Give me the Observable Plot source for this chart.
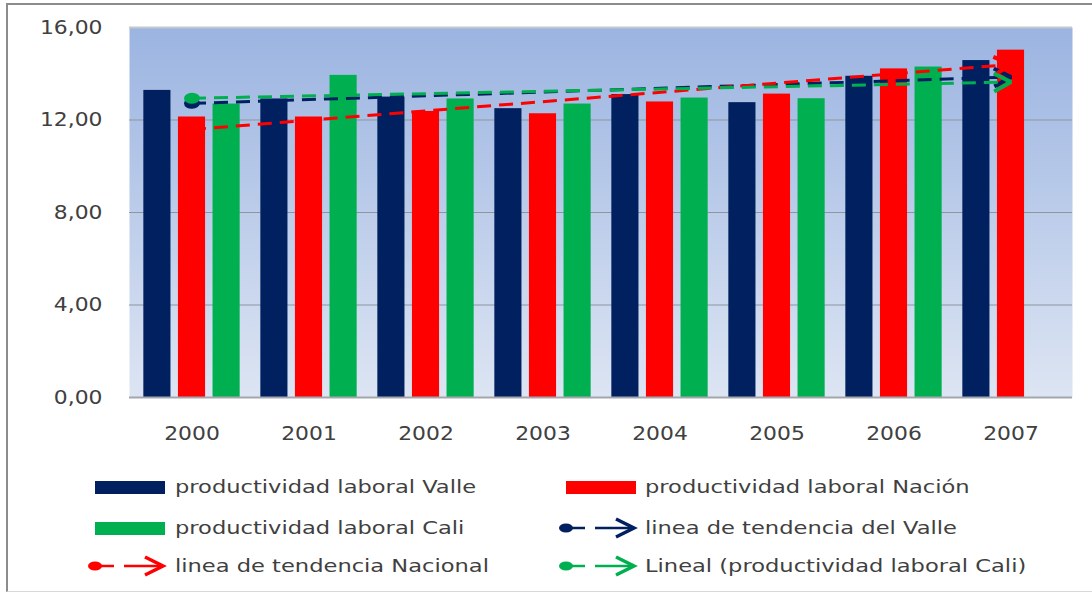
<!DOCTYPE html>
<html><head><meta charset="utf-8">
<script src="https://cdn.jsdelivr.net/npm/d3@7"></script>
<script src="https://cdn.jsdelivr.net/npm/@observablehq/plot@0.6"></script>
<style>
html,body{margin:0;padding:0;background:#fff;}
#wrap{position:relative;width:1092px;height:592px;overflow:hidden;font-family:"DejaVu Sans",sans-serif;}
#frame{position:absolute;left:6px;top:3px;width:1100px;height:589px;border:2px solid #8c8c8c;border-bottom:1px solid #d9d9d9;box-sizing:border-box;}
#chart{position:absolute;left:0;top:0;}
#legend{position:absolute;left:0;top:452px;width:1092px;height:140px;}
.sym{position:absolute;}
.lbl{position:absolute;white-space:nowrap;font-size:18.5px;color:#404040;line-height:24px;transform:scaleX(1.22);transform-origin:0 50%;}
</style>
</head><body>
<div id="wrap"><div id="frame"></div><div id="chart"></div><div id="legend"></div></div>
<script>
// ---- data ----
const years = ["2000","2001","2002","2003","2004","2005","2006","2007"];
const valle  = [13.28, 12.91, 12.99, 12.49, 13.10, 12.75, 13.89, 14.57];
const nacion = [12.13, 12.13, 12.37, 12.27, 12.78, 13.12, 14.21, 15.02];
const cali   = [12.69, 13.93, 12.91, 12.69, 12.95, 12.92, 14.29, null];
const seriesNames = ["productividad laboral Valle", "productividad laboral Nación", "productividad laboral Cali"];
const trendNames = ["linea de tendencia del Valle", "linea de tendencia Nacional", "Lineal (productividad laboral Cali)"];
// trend line end values (first year, last year)
const trendStart = [12.72, 11.59, 12.94];
const trendEnd   = [13.86, 14.40, 13.64];
const yTicks = [0, 4, 8, 12, 16];
const colors = ["#002060", "#FF0000", "#00B050"];

// ---- layout ----
const W = 1092, H = 452, mL = 129, mR = 20, mT = 27, mB = 55;
const step = (W - mL - mR) / years.length;
const barW = 28, gap = 6.6, groupW = 3 * barW + 2 * gap;

const seriesVals = [valle, nacion, cali];
const barMarks = seriesVals.map((vals, k) => {
  const rows = years.map((y, i) => ({year: y, value: vals[i]})).filter(d => d.value != null);
  const insetLeft = step / 2 - groupW / 2 + k * (barW + gap);
  const insetRight = step - insetLeft - barW;
  return Plot.barY(rows, {x: "year", y: "value", fill: colors[k], insetLeft, insetRight});
});

const trendRows = trendStart.map((s, k) => ({
  x1: years[0], x2: years[years.length - 1], y1: s, y2: trendEnd[k], k
}));

const NS = "http://www.w3.org/2000/svg";
function dotMarker(color) {
  const m = document.createElementNS(NS, "marker");
  m.setAttribute("viewBox", "-10 -10 20 20");
  m.setAttribute("markerWidth", 20); m.setAttribute("markerHeight", 20);
  m.setAttribute("markerUnits", "userSpaceOnUse");
  m.setAttribute("orient", "auto");
  const e = document.createElementNS(NS, "ellipse");
  e.setAttribute("rx", 8); e.setAttribute("ry", 5.5);
  e.setAttribute("fill", color); e.setAttribute("stroke", "none");
  m.appendChild(e);
  return m;
}
function arrowMarker(color) {
  const m = document.createElementNS(NS, "marker");
  m.setAttribute("viewBox", "-22 -14 26 28");
  m.setAttribute("markerWidth", 26); m.setAttribute("markerHeight", 28);
  m.setAttribute("markerUnits", "userSpaceOnUse");
  m.setAttribute("orient", "auto");
  const p = document.createElementNS(NS, "path");
  p.setAttribute("d", "M-17,-9L0,0L-17,9");
  p.setAttribute("fill", "none"); p.setAttribute("stroke", color);
  p.setAttribute("stroke-width", 4); p.setAttribute("stroke-dasharray", "none");
  p.setAttribute("stroke-linejoin", "miter");
  m.appendChild(p);
  return m;
}

const fmt = d => d.toFixed(2).replace(".", ",");

const chart = Plot.plot({
  width: W, height: H,
  marginLeft: mL, marginRight: mR, marginTop: mT, marginBottom: mB,
  style: {fontFamily: "DejaVu Sans, sans-serif", background: "transparent", color: "#404040"},
  x: {type: "band", domain: years, padding: 0, label: null},
  y: {domain: [0, 16], label: null},
  marks: [
    Plot.frame({fill: "#9db5e2", stroke: null}),
    Plot.ruleY([4, 8, 12], {stroke: "#8f959f", strokeWidth: 1}),
    Plot.ruleY([16], {stroke: "#c4c7cc", strokeWidth: 2}),
    ...barMarks,
    Plot.ruleY([0], {stroke: "#a3a7ad", strokeWidth: 2}),
    ...trendRows.map(r => Plot.link([r], {
      x1: "x1", y1: "y1", x2: "x2", y2: "y2",
      stroke: colors[r.k], strokeWidth: 3, strokeDasharray: "14,8",
      markerStart: dotMarker, markerEnd: arrowMarker
    })),
    Plot.axisY({ticks: yTicks, tickFormat: fmt, tickSize: 0, tickPadding: 27, fontSize: 19, fill: "#404040"}),
    Plot.axisX({tickSize: 0, tickPadding: 29, fontSize: 19, fill: "#404040"})
  ]
});

// background gradient
const defs = document.createElementNS(NS, "defs");
defs.innerHTML = '<linearGradient id="bgGrad" x1="0" y1="0" x2="0" y2="1">' +
  '<stop offset="0" stop-color="#9bb4e1"/><stop offset="1" stop-color="#dde5f3"/></linearGradient>';
chart.insertBefore(defs, chart.firstChild);
const fr = chart.querySelector('[aria-label="frame"]');
if (fr) { (fr.tagName === "rect" ? [fr] : fr.querySelectorAll("rect")).forEach(r => r.setAttribute("fill", "url(#bgGrad)")); }

// stretch tick labels horizontally to match the reference's wide lettering
chart.querySelectorAll('[aria-label="x-axis tick label"] text, [aria-label="y-axis tick label"] text').forEach(t => {
  const x = parseFloat(t.getAttribute("x")) || 0;
  const tr = t.getAttribute("transform") || "";
  t.setAttribute("transform", `${tr} translate(${x},0) scale(1.15,1) translate(${-x},0)`);
});
document.getElementById("chart").appendChild(chart);

// ---- legend ----
const legend = document.getElementById("legend");
const rowsY = [35, 76, 114];
const cols = [{sw: 95, tr: 87, tx: 175}, {sw: 566, tr: 558, tx: 645}];
const entries = [
  {type: "bar", k: 0, c: 0, r: 0, label: seriesNames[0]},
  {type: "bar", k: 1, c: 1, r: 0, label: seriesNames[1]},
  {type: "bar", k: 2, c: 0, r: 1, label: seriesNames[2]},
  {type: "trend", k: 0, c: 1, r: 1, label: trendNames[0]},
  {type: "trend", k: 1, c: 0, r: 2, label: trendNames[1]},
  {type: "trend", k: 2, c: 1, r: 2, label: trendNames[2]}
];
entries.forEach(e => {
  const cy = rowsY[e.r], col = cols[e.c], color = colors[e.k];
  if (e.type === "bar") {
    const d = document.createElement("div");
    d.className = "sym";
    d.style.cssText = `left:${col.sw}px;top:${cy - 6.5}px;width:70px;height:13px;background:${color};`;
    legend.appendChild(d);
  } else {
    const s = document.createElementNS(NS, "svg");
    s.setAttribute("class", "sym");
    s.setAttribute("width", 80); s.setAttribute("height", 24);
    s.style.left = col.tr + "px"; s.style.top = (cy - 12) + "px";
    s.innerHTML = `<line x1="8" y1="12" x2="27" y2="12" stroke="${color}" stroke-width="2.5"/>` +
      `<line x1="37" y1="12" x2="74" y2="12" stroke="${color}" stroke-width="2.5"/>` +
      `<ellipse cx="8" cy="12" rx="7" ry="4.5" fill="${color}"/>` +
      `<path d="M58,3L76,12L58,21" fill="none" stroke="${color}" stroke-width="3.5"/>`;
    legend.appendChild(s);
  }
  const t = document.createElement("div");
  t.className = "lbl";
  t.textContent = e.label;
  t.style.left = col.tx + "px"; t.style.top = (cy - 12) + "px";
  legend.appendChild(t);
});
</script>
</body></html>
